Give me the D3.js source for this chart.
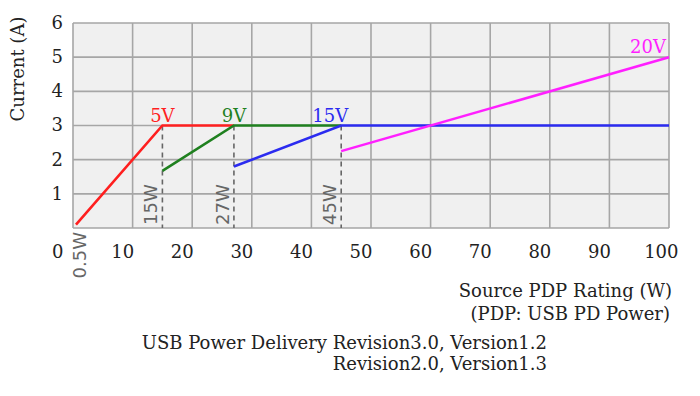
<!DOCTYPE html>
<html>
<head>
<meta charset="utf-8">
<script src="https://cdn.jsdelivr.net/npm/d3@7"></script>
<style>
  body { margin: 0; background: #fff; }
  svg text { font-family: "DejaVu Serif", serif; fill: #222; }
</style>
</head>
<body>
<div id="chart"></div>
<script>
// ------------ data
var xTicks = [0, 10, 20, 30, 40, 50, 60, 70, 80, 90, 100];
var yTicks = [0, 1, 2, 3, 4, 5, 6];

// each profile: [watts, amps] points
var line5V  = [[0.5, 0.1], [15, 3], [27, 3]];
var line9V  = [[15, 1.67], [27, 3], [45, 3]];
var line15V = [[27, 1.8], [45, 3], [100, 3]];
var line20V = [[45, 2.25], [100, 5]];

var seriesNames = ["5V", "9V", "15V", "20V"];
var seriesColors = ["#ff1f1f", "#1f801f", "#2b2bf0", "#ff1fff"];
var seriesData = [line5V, line9V, line15V, line20V];
// where the voltage label sits (watts, amps)
var labelAt = [[15, 3], [27, 3], [45, 3], [100, 5]];

var wattMarks = [15, 27, 45];
var wattMarkLabels = ["15W", "27W", "45W"];

// ------------ svg
var svgWidth = 700, svgHeight = 396;
var svg = d3.select("#chart").append("svg")
  .attr("width", svgWidth)
  .attr("height", svgHeight);

// plot box (note: can't use "top" as a global name, it's window.top)
var plotLeft = 73, plotRight = 669, plotTop = 23, plotBottom = 228;

var xScale = d3.scaleLinear().domain([0, 100]).range([plotLeft, plotRight]);
var yScale = d3.scaleLinear().domain([0, 6]).range([plotBottom, plotTop]);

// plot background
svg.append("rect")
  .attr("x", plotLeft).attr("y", plotTop)
  .attr("width", plotRight - plotLeft).attr("height", plotBottom - plotTop)
  .attr("fill", "#f0f0f0");

// grid
var grid = svg.append("g").attr("stroke", "#a6a6a6").attr("stroke-width", 1.6);
grid.selectAll("line.v").data(xTicks).enter().append("line")
  .attr("x1", d => xScale(d)).attr("x2", d => xScale(d))
  .attr("y1", plotTop).attr("y2", plotBottom);
grid.selectAll("line.h").data(yTicks).enter().append("line")
  .attr("x1", plotLeft).attr("x2", plotRight)
  .attr("y1", d => yScale(d)).attr("y2", d => yScale(d));

// dashed watt markers
svg.selectAll("line.mark").data(wattMarks).enter().append("line")
  .attr("x1", d => xScale(d)).attr("x2", d => xScale(d))
  .attr("y1", yScale(3)).attr("y2", plotBottom)
  .attr("stroke", "#666").attr("stroke-width", 1.6)
  .attr("stroke-dasharray", "5,4");

svg.selectAll("text.mark").data(wattMarks).enter().append("text")
  .attr("transform", d => `translate(${xScale(d) - 5}, ${plotBottom - 3}) rotate(-90)`)
  .style("font-family", "'DejaVu Sans', sans-serif")
  .style("font-size", "18px")
  .style("fill", "#666")
  .text((d, i) => wattMarkLabels[i]);

svg.append("text")
  .attr("transform", `translate(${xScale(0.5) + 10}, ${plotBottom + 4}) rotate(-90)`)
  .attr("text-anchor", "end")
  .style("font-family", "'DejaVu Sans', sans-serif")
  .style("font-size", "18px")
  .style("fill", "#666")
  .text("0.5W");

// lines
var line = d3.line().x(d => xScale(d[0])).y(d => yScale(d[1]));
svg.selectAll("path.series").data(seriesData).enter().append("path")
  .attr("d", line)
  .attr("fill", "none")
  .attr("stroke", (d, i) => seriesColors[i])
  .attr("stroke-width", 2.6);

// voltage labels
svg.selectAll("text.vlabel").data(labelAt).enter().append("text")
  .attr("x", (d, i) => i == 3 ? xScale(d[0]) - 3 : (i == 2 ? xScale(d[0]) + 7 : xScale(d[0])))
  .attr("y", d => yScale(d[1]) - 4)
  .attr("text-anchor", (d, i) => i >= 2 ? "end" : "middle")
  .style("font-size", "18px")
  .style("fill", (d, i) => seriesColors[i])
  .text((d, i) => seriesNames[i]);

// axes
var xAxis = svg.append("g")
  .attr("transform", `translate(0, ${plotBottom})`)
  .call(d3.axisBottom(xScale).tickValues(xTicks).tickSize(0).tickPadding(0));
xAxis.select(".domain").remove();
xAxis.selectAll("text")
  .style("font-family", "'DejaVu Serif', serif")
  .style("font-size", "18px")
  .style("fill", "#222")
  .attr("dy", 0)
  .attr("y", 30)
  .attr("text-anchor", "end")
  .attr("x", d => d == 0 ? -10 : (d == 100 ? 9 : 1));

var yAxis = svg.append("g")
  .attr("transform", `translate(${plotLeft}, 0)`)
  .call(d3.axisLeft(yScale).tickValues(yTicks.filter(d => d > 0))
    .tickFormat(d3.format("d")).tickSize(0).tickPadding(0));
yAxis.select(".domain").remove();
yAxis.selectAll("text")
  .style("font-family", "'DejaVu Serif', serif")
  .style("font-size", "18px")
  .style("fill", "#222")
  .attr("x", -10)
  .attr("dy", "0.3em");

// axis titles
svg.append("text")
  .attr("transform", "translate(24, 69) rotate(-90)")
  .attr("text-anchor", "middle")
  .style("font-size", "18px")
  .text("Current (A)");

svg.append("text")
  .attr("x", 672).attr("y", 297)
  .attr("text-anchor", "end")
  .style("font-size", "18px")
  .text("Source PDP Rating (W)");

svg.append("text")
  .attr("x", 670).attr("y", 320)
  .attr("text-anchor", "end")
  .style("font-size", "18px")
  .text("(PDP: USB PD Power)");

svg.append("text")
  .attr("x", 547).attr("y", 349)
  .attr("text-anchor", "end")
  .style("font-size", "18px")
  .text("USB Power Delivery Revision3.0, Version1.2");

svg.append("text")
  .attr("x", 547).attr("y", 370)
  .attr("text-anchor", "end")
  .style("font-size", "18px")
  .text("Revision2.0, Version1.3");
</script>
</body>
</html>
